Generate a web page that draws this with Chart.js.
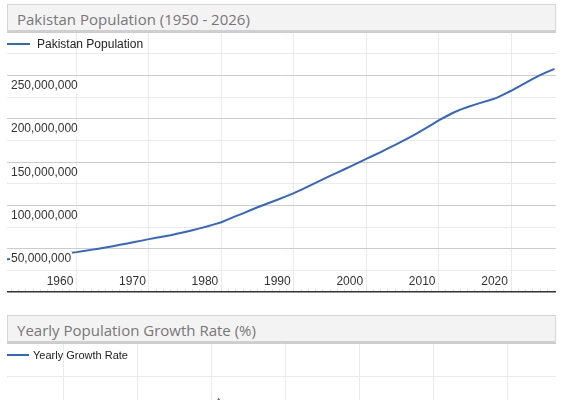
<!DOCTYPE html>
<html>
<head>
<meta charset="utf-8">
<script src="https://cdn.jsdelivr.net/npm/chart.js@4/dist/chart.umd.min.js"></script>
<style>
  html, body { margin: 0; padding: 0; background: #fff; width: 566px; height: 400px; overflow: hidden; }
  .title {
    position: absolute; left: 7px; width: 549px; height: 28px; box-sizing: border-box;
    background: #f3f3f3; border: 1px solid #d6d6d6; border-bottom: 2px solid #cfcfcf;
    font: 15px 'Open Sans', sans-serif; color: #777; line-height: 24px; padding: 2px 0 0 9px;
  }
  canvas { position: absolute; left: 7px; }
</style>
</head>
<body>
<div class="title" style="top:4px">Pakistan Population (1950 - 2026)</div>
<canvas id="popChart" width="549" height="262" style="top:32px"></canvas>
<div class="title" style="top:315px">Yearly Population Growth Rate (%)</div>
<canvas id="growthChart" width="549" height="530" style="top:343px"></canvas>
<script>
// Pakistan population, one value per year
const years = [1950, 1951, 1952, 1953, 1954, 1955, 1956, 1957, 1958, 1959,
  1960, 1961, 1962, 1963, 1964, 1965, 1966, 1967, 1968, 1969,
  1970, 1971, 1972, 1973, 1974, 1975, 1976, 1977, 1978, 1979,
  1980, 1981, 1982, 1983, 1984, 1985, 1986, 1987, 1988, 1989,
  1990, 1991, 1992, 1993, 1994, 1995, 1996, 1997, 1998, 1999,
  2000, 2001, 2002, 2003, 2004, 2005, 2006, 2007, 2008, 2009,
  2010, 2011, 2012, 2013, 2014, 2015, 2016, 2017, 2018, 2019,
  2020, 2021, 2022, 2023, 2024, 2025, 2026];
const population = [37500000, 38200000, 38900000, 39700000, 40500000, 41300000, 42200000, 43100000, 44000000, 45000000,
  46000000, 47300000, 48600000, 50000000, 51400000, 52900000, 54400000, 56000000, 57600000, 59300000,
  61000000, 62500000, 64000000, 65600000, 67400000, 69300000, 71300000, 73400000, 75600000, 78000000,
  80500000, 84000000, 87500000, 90800000, 94300000, 97800000, 101000000, 104200000, 107300000, 110600000,
  114000000, 117800000, 121800000, 126000000, 130000000, 134000000, 137800000, 141600000, 145500000, 149500000,
  153500000, 157500000, 161500000, 165700000, 169800000, 174000000, 178500000, 183000000, 187800000, 192800000,
  198000000, 202500000, 206800000, 210500000, 213500000, 216200000, 218800000, 221300000, 224000000, 228000000,
  232200000, 236800000, 241300000, 245800000, 250200000, 254000000, 257500000];

// Yearly growth rate (%)
const growthYears = [1951, 1952, 1953, 1954, 1955, 1956, 1957, 1958, 1959,
  1960, 1961, 1962, 1963, 1964, 1965, 1966, 1967, 1968, 1969,
  1970, 1971, 1972, 1973, 1974, 1975, 1976, 1977, 1978, 1979,
  1980, 1981, 1982, 1983, 1984, 1985, 1986, 1987, 1988, 1989,
  1990, 1991, 1992, 1993, 1994, 1995, 1996, 1997, 1998, 1999,
  2000, 2001, 2002, 2003, 2004, 2005, 2006, 2007, 2008, 2009,
  2010, 2011, 2012, 2013, 2014, 2015, 2016, 2017, 2018, 2019,
  2020, 2021, 2022, 2023, 2024, 2025, 2026];
const growthRate = [1.8, 1.9, 2.0, 2.0, 2.1, 2.2, 2.2, 2.3, 2.3,
  2.4, 2.5, 2.6, 2.7, 2.8, 2.8, 2.9, 2.9, 2.9, 2.9,
  2.8, 2.6, 2.5, 2.6, 2.7, 2.8, 2.9, 3.0, 3.1, 3.2,
  3.35, 3.57, 3.5, 3.4, 3.3, 3.2, 3.1, 3.0, 3.0, 3.0,
  3.05, 3.1, 3.1, 3.0, 2.9, 2.8, 2.7, 2.7, 2.7, 2.7,
  2.6, 2.6, 2.5, 2.5, 2.5, 2.5, 2.5, 2.5, 2.6, 2.6,
  2.6, 2.3, 2.1, 1.8, 1.5, 1.3, 1.2, 1.2, 1.3, 1.7,
  1.9, 1.9, 1.9, 1.8, 1.8, 1.6, 1.5];

// tick labels
const xTickYears = [1960, 1970, 1980, 1990, 2000, 2010, 2020];
const popTickValues = [50000000, 100000000, 150000000, 200000000, 250000000];
const popTickLabels = ['50,000,000', '100,000,000', '150,000,000', '200,000,000', '250,000,000'];
const growthTickValues = [1, 2, 3];
const growthTickLabels = ['1', '2', '3'];

const LINE_BLUE = '#3366cc';
const FONT = 'Liberation Sans';

// legend drawn inside the plot, top left, like the original
const insideLegend = {
  id: 'insideLegend',
  afterDraw(chart, args, opts) {
    const ds = chart.data.datasets[0];
    const { left, top } = chart.chartArea;
    const ctx = chart.ctx;
    ctx.save();
    ctx.strokeStyle = ds.borderColor;
    ctx.lineWidth = 2;
    ctx.beginPath();
    ctx.moveTo(left, top + opts.y);
    ctx.lineTo(left + opts.lineLen, top + opts.y);
    ctx.stroke();
    ctx.font = opts.size + 'px ' + FONT;
    ctx.fillStyle = '#222';
    ctx.textBaseline = 'middle';
    ctx.fillText(ds.label, left + opts.textX, top + opts.y + 1);
    ctx.restore();
  }
};

function xAxis(min, max, tickYears, labelOffset) {
  return {
    type: 'linear', min: min, max: max,
    afterBuildTicks: s => { s.ticks = tickYears.filter(v => v > min && v < max).map(v => ({ value: v })); },
    afterFit: s => { s.height = 2; s.paddingLeft = 0; s.paddingRight = 0; },
    grid: {
      color: c => (c.tick && xTickYears.includes(c.tick.value)) ? '#ebebeb' : 'rgba(0,0,0,0)',
      tickColor: '#e2e2e2', tickLength: -3
    },
    border: { color: '#333', width: 1.5 },
    ticks: {
      autoSkip: false, maxRotation: 0, mirror: true, padding: 3.4, labelOffset: labelOffset,
      color: '#333', font: { family: FONT, size: 12 },
      callback: v => xTickYears.includes(v) ? String(v) : ''
    }
  };
}

function yAxis(min, max, step, major, values, labels, fontSize) {
  const lab = v => { const i = values.indexOf(v); return i >= 0 ? labels[i] : ''; };
  return {
    min: min, max: max,
    afterFit: s => { s.width = 0; s.paddingTop = 0; s.paddingBottom = 0; },
    border: { display: false },
    grid: {
      drawTicks: false,
      color: c => c.tick.value === 0 ? 'rgba(0,0,0,0)' : (c.tick.value % major === 0 ? '#cccccc' : '#ebebeb')
    },
    ticks: {
      stepSize: step, mirror: true, padding: 4, labelOffset: 10.5, z: 1,
      color: '#333', font: { family: FONT, size: fontSize },
      showLabelBackdrop: c => !!lab(c.tick.value),
      backdropColor: '#ffffff',
      backdropPadding: { top: 0, bottom: 0, left: 1, right: 1 },
      callback: v => lab(v)
    }
  };
}

new Chart(document.getElementById('popChart'), {
  type: 'line',
  data: {
    datasets: [{
      label: 'Pakistan Population',
      data: years.map((y, i) => ({ x: y, y: population[i] })),
      borderColor: LINE_BLUE, borderWidth: 2, pointRadius: 0, tension: 0
    }]
  },
  options: {
    responsive: false, animation: false,
    layout: { autoPadding: false, padding: 0 },
    plugins: { legend: { display: false }, tooltip: { enabled: false },
      insideLegend: { y: 12, lineLen: 23, textX: 30, size: 12 } },
    scales: {
      x: xAxis(1950.4, 2026.2, years, -16.5),
      y: yAxis(0, 300000000, 25000000, 50000000, popTickValues, popTickLabels, 12)
    }
  },
  plugins: [insideLegend]
});

new Chart(document.getElementById('growthChart'), {
  type: 'line',
  data: {
    datasets: [{
      label: 'Yearly Growth Rate',
      data: growthYears.map((y, i) => ({ x: y, y: growthRate[i] })),
      borderColor: LINE_BLUE, borderWidth: 2, pointRadius: 0, tension: 0
    }]
  },
  options: {
    responsive: false, animation: false,
    layout: { autoPadding: false, padding: 0 },
    plugins: { legend: { display: false }, tooltip: { enabled: false },
      insideLegend: { y: 12, lineLen: 22, textX: 26, size: 11 } },
    scales: {
      x: xAxis(1952.4, 2026.6, growthYears, -16),
      y: yAxis(0, 4, 0.25, 1, growthTickValues, growthTickLabels, 11)
    }
  },
  plugins: [insideLegend]
});
</script>
</body>
</html>
